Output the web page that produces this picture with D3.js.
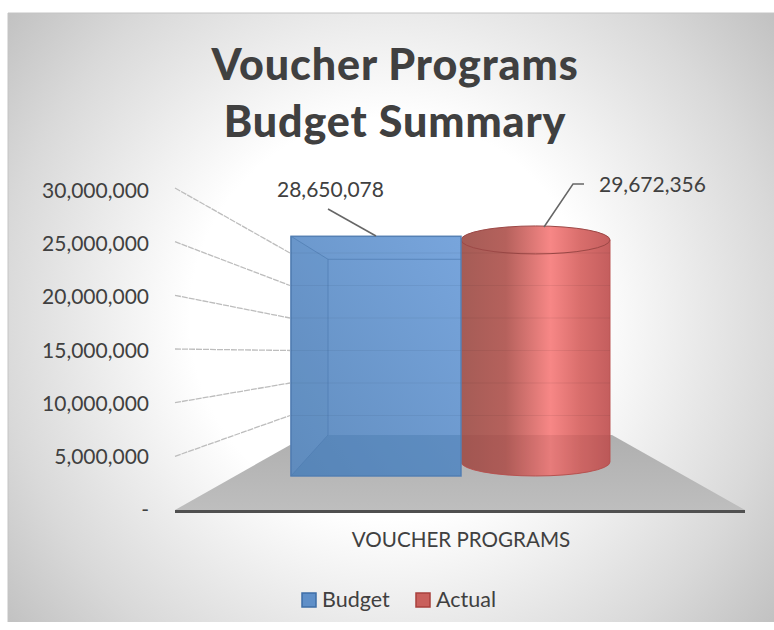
<!DOCTYPE html>
<html><head><meta charset="utf-8">
<script src="https://cdnjs.cloudflare.com/ajax/libs/d3/7.8.5/d3.min.js"></script>
<style>html,body{margin:0;padding:0;background:#fff}svg{display:block}text{font-family:Lato,"Open Sans",sans-serif}</style>
</head><body><div id="c"></div>
<script>
const seriesNames = ["Budget","Actual"];
const seriesValues = [28650078,29672356];
const valueLabels = ["28,650,078","29,672,356"];
const categories = ["VOUCHER PROGRAMS"];
const tickValues = [0,5000000,10000000,15000000,20000000,25000000,30000000];
const tickLabels = ["-","5,000,000","10,000,000","15,000,000","20,000,000","25,000,000","30,000,000"];
const titleLines = ["Voucher Programs","Budget Summary"];

const svg = d3.select("#c").append("svg").attr("width",774).attr("height",630);
const defs = svg.append("defs");
const bg = defs.append("radialGradient").attr("id","bg").attr("gradientUnits","userSpaceOnUse")
  .attr("cx",390).attr("cy",318).attr("r",500);
[[0,"#ffffff"],[0.4,"#ffffff"],[0.78,"#d9d9d9"],[1,"#bfbfbf"]].forEach(d=>bg.append("stop").attr("offset",d[0]).attr("stop-color",d[1]));
const floorG = defs.append("linearGradient").attr("id","floor").attr("x1",0).attr("y1",0).attr("x2",0).attr("y2",1);
[[0,"#afafaf"],[1,"#bebebe"]].forEach(d=>floorG.append("stop").attr("offset",d[0]).attr("stop-color",d[1]));
const blueG = defs.append("linearGradient").attr("id","blue").attr("x1",0).attr("y1",1).attr("x2",1).attr("y2",0);
[[0,"#618dbf"],[1,"#78a5dc"]].forEach(d=>blueG.append("stop").attr("offset",d[0]).attr("stop-color",d[1]));
const redG = defs.append("linearGradient").attr("id","red").attr("x1",0).attr("y1",0).attr("x2",1).attr("y2",0);
[[0,"#a55c56"],[0.3,"#b5615c"],[0.6,"#f78786"],[0.8,"#d96e6c"],[1,"#c45e5e"]].forEach(d=>redG.append("stop").attr("offset",d[0]).attr("stop-color",d[1]));
defs.append("filter").attr("id","soft").append("feGaussianBlur").attr("stdDeviation",0.5);

svg.append("rect").attr("x",8).attr("y",13).attr("width",766).attr("height",609).attr("fill","url(#bg)");
svg.append("path").attr("d","M8,622V13H774").attr("fill","none").attr("stroke","#c4c4c4").attr("stroke-width",1);

const titleG = svg.append("g").attr("text-anchor","middle").attr("fill","#404040").attr("font-weight",900).attr("font-size",43).attr("letter-spacing",0.9);
titleG.selectAll("text").data(titleLines).join("text").attr("x",395).attr("y",(d,i)=>80+i*57).text(d=>d);

// three depth planes of the 3-D plot
const yAxis = d3.scaleLinear().domain([0,30000000]).range([510,191]);
const yWallFront = d3.scaleLinear().domain([0,30000000]).range([510,188]);
const yWallBack = d3.scaleLinear().domain([0,30000000]).range([448,253]);
const yBarFront = d3.scaleLinear().domain([0,30000000]).range([476,225]);
const yBarBack = d3.scaleLinear().domain([0,30000000]).range([435,251]);
const yCyl = d3.scaleLinear().domain([0,30000000]).range([462,237.5]);
const x0 = d3.scaleBand().domain(categories).range([175,745]);
const xBars = d3.scaleBand().domain(seriesNames).range([291,611]).padding(0);

const grid = svg.append("g").attr("filter","url(#soft)");
grid.selectAll("line").data(tickValues.slice(1)).join("line")
  .attr("x1",175).attr("x2",290).attr("y1",d=>yWallFront(d)).attr("y2",d=>yWallBack(d))
  .attr("stroke","#bdbdbd").attr("stroke-width",1.3).attr("stroke-dasharray","6 1");

svg.append("g").attr("fill","#404040").attr("font-size",21).attr("text-anchor","end")
  .selectAll("text").data(tickValues).join("text")
  .attr("x",149).attr("y",d=>yAxis(d)+7).text((d,i)=>tickLabels[i]);

// floor
svg.append("path").attr("d",d3.line()([[175,510],[290,445],[612,435],[745,510]])+"Z").attr("fill","url(#floor)");
svg.append("rect").attr("x",175).attr("y",510).attr("width",570).attr("height",3).attr("fill","#505050");

// cylinder
const a = seriesValues[1], bx = xBars("Actual"), bw = xBars.bandwidth();
const cx = bx+bw/2+4.5, rx = 74.5, ry = 14, yT = yCyl(a), yB = yCyl(0);
const cyl = svg.append("g");
cyl.append("path").attr("d",`M${cx-rx},${yT}V${yB}A${rx},${ry} 0 0 0 ${cx+rx},${yB}V${yT}Z`).attr("fill","url(#red)").attr("stroke","#bb5654").attr("stroke-width",1);
cyl.append("path").attr("d",`M${cx-rx},435V${yB}A${rx},${ry} 0 0 0 ${cx+rx},${yB}V435Z`).attr("fill","#8a3a3a").attr("fill-opacity",.14);
cyl.append("ellipse").attr("cx",cx).attr("cy",yT).attr("rx",rx).attr("ry",ry).attr("fill","url(#red)").attr("stroke","#9c4846").attr("stroke-width",1);

// faint gridlines through the cylinder
const through2 = svg.append("g").attr("stroke","#5a3030").attr("stroke-opacity",.1);
through2.selectAll("line").data(tickValues.slice(1)).join("line")
  .attr("x1",461).attr("x2",610).attr("y1",d=>yWallBack(d)).attr("y2",d=>yWallBack(d));

// box
const v = seriesValues[0];
const L = 291, R = 461, inL = 328, inR = 461;
const bT = yBarFront(v), bB = yBarFront(0), iT = yBarBack(v), iB = yBarBack(0);
const box = svg.append("g");
box.append("rect").attr("x",L).attr("y",bT).attr("width",R-L).attr("height",bB-bT).attr("fill","url(#blue)").attr("stroke","#5580b4").attr("stroke-width",1.5);
box.append("path").attr("d",d3.line()([[L,bB],[inL,iB],[inR,iB],[R,bB]])+"Z").attr("fill","#4c7cb0").attr("fill-opacity",.45);
box.append("path").attr("d",d3.line()([[L,bT],[inL,iT],[inL,iB],[L,bB]])+"Z").attr("fill","#4c7cb0").attr("fill-opacity",.1).attr("stroke","#4f7cb0").attr("stroke-opacity",.7);
box.append("path").attr("d",`M${inL},${iT}H${inR}`).attr("stroke","#4f7cb0").attr("stroke-opacity",.7).attr("fill","none");

// faint gridlines through the box
const through = svg.append("g").attr("stroke","#3f5f85").attr("stroke-opacity",.13);
through.selectAll("line").data(tickValues.slice(1)).join("line")
  .attr("x1",291).attr("x2",461).attr("y1",d=>yWallBack(d)).attr("y2",d=>yWallBack(d));

// value labels and leaders
const lab = svg.append("g").attr("fill","#404040").attr("font-size",21);
lab.append("text").attr("x",330.5).attr("y",197).attr("text-anchor","middle").text(valueLabels[0]);
lab.append("text").attr("x",652.5).attr("y",192).attr("text-anchor","middle").text(valueLabels[1]);
const lead = d3.line();
svg.append("path").attr("d",lead([[328,209],[376,236]])).attr("fill","none").attr("stroke","#666").attr("stroke-width",1.5);
svg.append("path").attr("d",lead([[544,227],[573,184],[584,184]])).attr("fill","none").attr("stroke","#666").attr("stroke-width",1.5);

svg.append("text").attr("x",x0(categories[0])+286).attr("y",547).attr("text-anchor","middle").attr("fill","#404040").attr("font-size",20.6).text(categories[0]);

// legend
const colors = d3.scaleOrdinal().domain(seriesNames).range(["#5f8fc8","#c9605c"]);
const strokes = d3.scaleOrdinal().domain(seriesNames).range(["#3e6ea6","#a8403d"]);
const lg = svg.append("g").selectAll("g").data(seriesNames).join("g").attr("transform",(d,i)=>`translate(${[302,416][i]},593)`);
lg.append("rect").attr("width",14).attr("height",14).attr("fill",d=>colors(d)).attr("stroke",d=>strokes(d)).attr("stroke-width",1.5);
lg.append("text").attr("x",20).attr("y",14).attr("fill","#404040").attr("font-size",21.5).text(d=>d);
</script></body></html>
